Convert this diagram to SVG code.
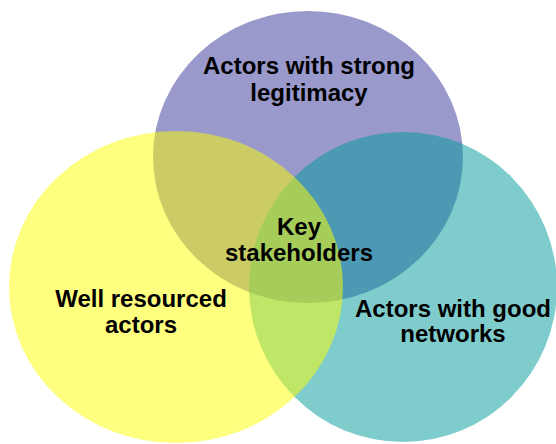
<svg xmlns="http://www.w3.org/2000/svg" width="556" height="444" viewBox="0 0 556 444">
<style>
.c{opacity:0.5}
.t{font-family:"Liberation Sans",Arial,sans-serif;font-weight:bold;font-size:24px;fill:#000;text-anchor:middle}
</style>
<rect width="556" height="444" fill="#ffffff"/>
<g id="legitimacy">
<ellipse class="c" cx="308" cy="157" rx="155" ry="146" fill="#333399"/>
</g>
<g id="networks">
<ellipse class="c" cx="403" cy="287" rx="154" ry="155" fill="#009999"/>
</g>
<g id="resourced">
<ellipse class="c" cx="176" cy="287" rx="167" ry="156" fill="#ffff00"/>
</g>
<g id="labels">
<text class="t" x="309" y="74">Actors with strong</text>
<text class="t" x="309" y="101">legitimacy</text>
<text class="t" x="299" y="235">Key</text>
<text class="t" x="299" y="261">stakeholders</text>
<text class="t" x="141" y="307">Well resourced</text>
<text class="t" x="141" y="333">actors</text>
<text class="t" x="453" y="317">Actors with good</text>
<text class="t" x="453" y="342">networks</text>
</g>
</svg>
